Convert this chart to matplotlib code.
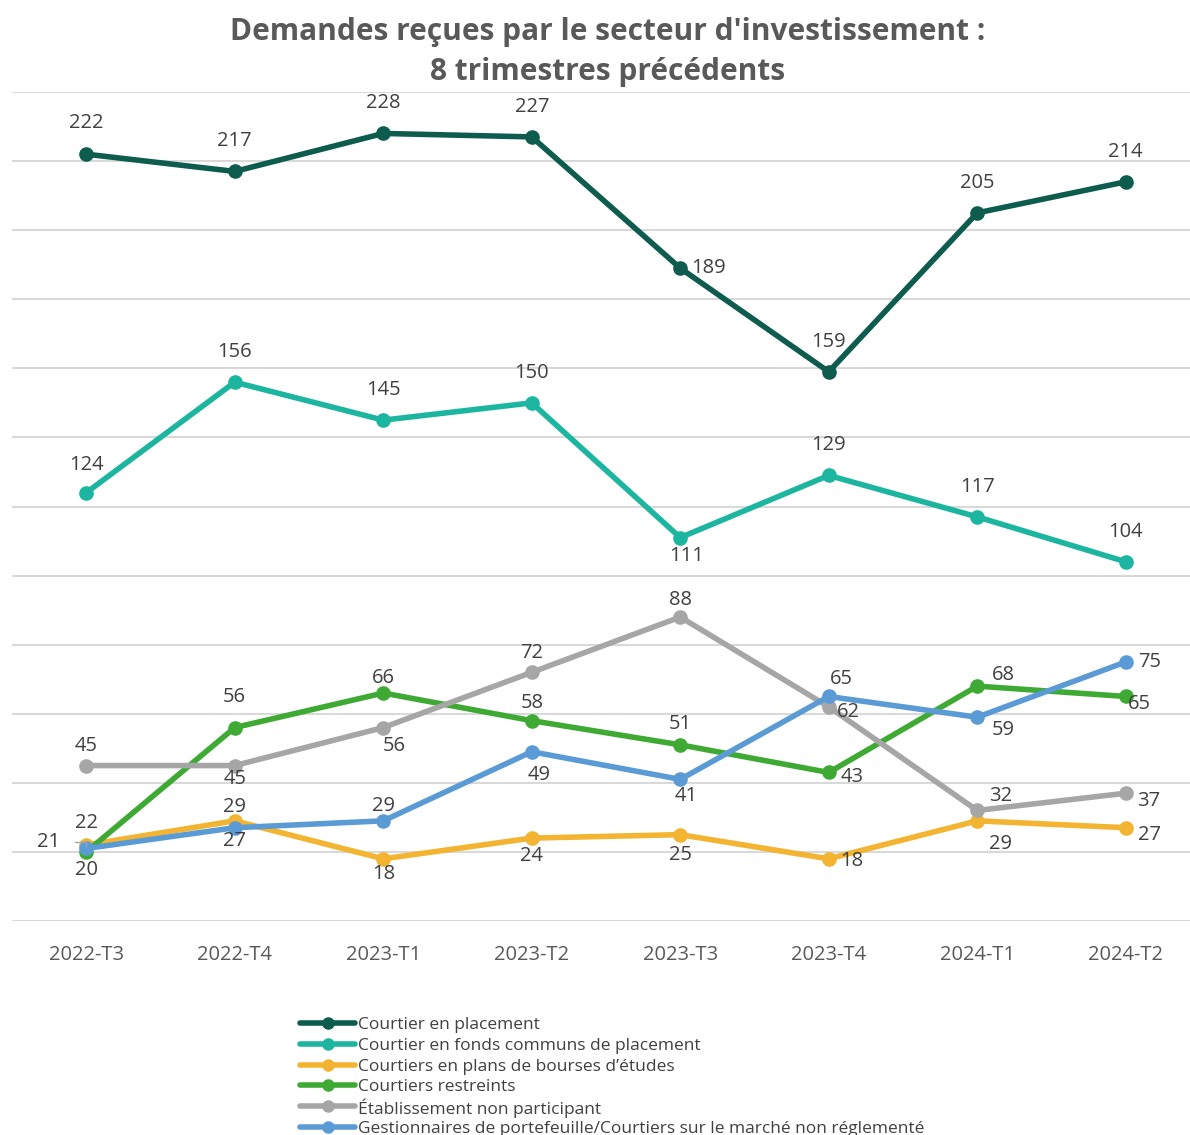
import matplotlib.pyplot as plt
from matplotlib.lines import Line2D
import numpy as np

plt.rcParams['font.family'] = ['Open Sans', 'DejaVu Sans']

quarters = ["2022-T3", "2022-T4", "2023-T1", "2023-T2",
            "2023-T3", "2023-T4", "2024-T1", "2024-T2"]

placement = [222, 217, 228, 227, 189, 159, 205, 214]
fonds_communs = [124, 156, 145, 150, 111, 129, 117, 104]
bourses_etudes = [22, 29, 18, 24, 25, 18, 29, 27]
restreints = [20, 56, 66, 58, 51, 43, 68, 65]
non_participant = [45, 45, 56, 72, 88, 62, 32, 37]
gestionnaires = [21, 27, 29, 49, 41, 65, 59, 75]

names = ["Courtier en placement",
         "Courtier en fonds communs de placement",
         "Courtiers en plans de bourses d\u2019\u00e9tudes",
         "Courtiers restreints",
         "\u00c9tablissement non participant",
         "Gestionnaires de portefeuille/Courtiers sur le march\u00e9 non r\u00e9glement\u00e9"]
series = [placement, fonds_communs, bourses_etudes, restreints, non_participant, gestionnaires]
colors = ["#0d5c4e", "#1bb5a0", "#f2b431", "#3eaa34", "#a6a6a6", "#5b9bd5"]

# label offsets in pixels (dx, dy) for each point
offsets = [
    [(0, 31), (0, 30), (0, 30), (0, 30), (28, 0), (0, 30), (0, 30), (0, 30)],
    [(0, 28), (0, 30), (0, 30), (0, 30), (6, -18), (0, 30), (0, 30), (0, 30)],
    [(0, 22), (0, 14), (0, -15), (0, -18), (0, -20), (23, -2), (23, -23), (24, -7)],
    [(0, -18), (0, 31), (0, 15), (0, 18), (0, 21), (23, -5), (26, 11), (14, -8)],
    [(0, 20), (0, -13), (11, -18), (0, 19), (0, 17), (20, -5), (23, 14), (23, -8)],
    [(-38, 6), (0, -13), (0, 15), (7, -23), (6, -17), (13, 17), (26, -13), (24, 0)],
]

W, H = 1190, 1135
fig = plt.figure(figsize=(W / 100, H / 100), dpi=100)
ax = fig.add_axes([12 / W, 1 - 921 / H, 1188 / W, 829 / H])

x = np.arange(len(quarters))
for vals, name, col, offs in zip(series, names, colors, offsets):
    ax.plot(x, vals, color=col, lw=4, marker='o', markersize=9.5,
            solid_capstyle='round', label=name, zorder=3)
    for xi, v, (dx, dy) in zip(x, vals, offs):
        if dx == -38:
            ax.annotate(str(v), (xi, v), xytext=(dx, dy), textcoords='offset pixels',
                        ha='center', va='center', fontsize=14.5, color='#404040',
                        arrowprops=dict(arrowstyle='-', color='#a6a6a6', lw=1,
                                        shrinkA=9, shrinkB=2,
                                        connectionstyle='angle,angleA=0,angleB=90'))
        else:
            ax.annotate(str(v), (xi, v), xytext=(dx, dy), textcoords='offset pixels',
                        ha='center', va='center', fontsize=14.5, color='#404040')

ax.set_xlim(-0.5, 7.5)
ax.set_ylim(0, 240)
ax.set_yticks(np.arange(0, 241, 20))
ax.set_yticklabels([])
ax.set_xticks(x)
ax.set_xticklabels(quarters, fontsize=14.5, color='#595959')
ax.tick_params(axis='both', length=0)
ax.tick_params(axis='x', pad=17)
ax.grid(axis='y', color='#d9d9d9', lw=1.5)
ax.set_axisbelow(True)
for s in ax.spines.values():
    s.set_visible(False)

fig.text(608 / W, 1 - 52 / H,
         "Demandes re\u00e7ues par le secteur d'investissement :\n8 trimestres pr\u00e9c\u00e9dents",
         ha='center', va='center', fontsize=21.5, fontweight='bold', color='#595959',
         linespacing=1.4)

# legend, one row every 21 px
for i, (name, col) in enumerate(zip(names, colors)):
    yy = 1 - (1023 + 20.8 * i) / H
    fig.add_artist(Line2D([300 / W, 355 / W], [yy, yy], color=col, lw=4,
                          solid_capstyle='round'))
    fig.add_artist(Line2D([327.5 / W], [yy], color=col, marker='o', markersize=8))
    fig.text(358 / W, yy, name, ha='left', va='center_baseline', fontsize=12.5,
             color='#404040')

fig.savefig("out.png", dpi=100)
